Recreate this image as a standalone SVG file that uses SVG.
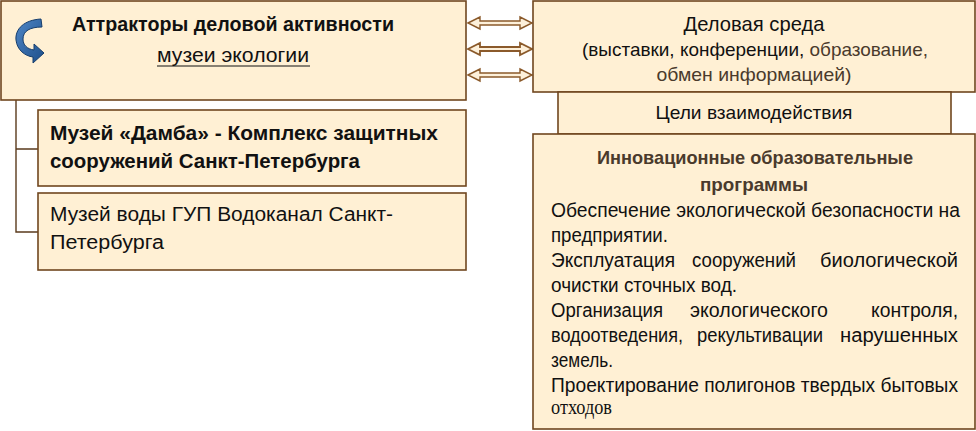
<svg xmlns="http://www.w3.org/2000/svg" width="976" height="431" viewBox="0 0 976 431">
<defs>
<style>
.box{fill:#fff0d4;stroke:#70461f;stroke-width:1.6}
.t{font-family:"Liberation Sans",Arial,sans-serif;fill:#111}
.p{font-size:19.5px}
.b{font-weight:bold}
.g{fill:#4a3a2c}
.arr{fill:#fdf0da;stroke:#8b5a2b;stroke-width:1.4}
.con{fill:none;stroke:#5a3a1c;stroke-width:1.4}
</style>
<linearGradient id="bl" x1="0" y1="0" x2="1" y2="1">
<stop offset="0" stop-color="#4f86c6"/>
<stop offset="1" stop-color="#1d4f8a"/>
</linearGradient>
</defs>
<rect width="976" height="431" fill="#ffffff"/>

<g id="connectors">
<path class="con" d="M16 100 V232 H38 M16 149 H38"/>
<polygon class="arr" points="468,23 480,17 480,21 520,21 520,17 532,23 520,29 520,25 480,25 480,29"/>
<polygon class="arr" points="468,49 480,43 480,47 520,47 520,43 532,49 520,55 520,51 480,51 480,55" style="stroke-width:1.8"/>
<polygon class="arr" points="468,75 480,69 480,73 520,73 520,69 532,75 520,81 520,77 480,77 480,81"/>
</g>

<g id="attractors">
<rect class="box" x="1" y="1" width="465" height="99"/>
<path d="M41 19 C24 20 15 29 16 40 C17 50 25 56 33 57 L33 63 L44 53 L34 44 L34 50 C27 49 23 45 23 39 C23 31 30 27 42 27 Z" fill="url(#bl)" stroke="#173e6c" stroke-width="1"/>
<text class="t b" x="233" y="31" font-size="20" text-anchor="middle" textLength="322" lengthAdjust="spacingAndGlyphs">Аттракторы деловой активности</text>
<text class="t" x="233" y="62" font-size="20" text-anchor="middle" textLength="152" lengthAdjust="spacingAndGlyphs">музеи экологии</text>
<line x1="157" y1="66" x2="310" y2="66" stroke="#111" stroke-width="1"/>
</g>

<g id="dambamuseum">
<rect class="box" x="38" y="110" width="428" height="76"/>
<text class="t b" x="50" y="140" font-size="20" textLength="388" lengthAdjust="spacingAndGlyphs">Музей «Дамба» - Комплекс защитных</text>
<text class="t b" x="50" y="168" font-size="20" textLength="310" lengthAdjust="spacingAndGlyphs">сооружений Санкт-Петербурга</text>
</g>

<g id="watermuseum">
<rect class="box" x="38" y="193" width="428" height="77"/>
<text class="t" x="50" y="221" font-size="20" textLength="343" lengthAdjust="spacingAndGlyphs">Музей воды ГУП Водоканал Санкт-</text>
<text class="t" x="50" y="249" font-size="20" textLength="114" lengthAdjust="spacingAndGlyphs">Петербурга</text>
</g>

<g id="businessenv">
<rect class="box" x="533" y="1" width="442" height="91"/>
<text class="t" x="754" y="31" font-size="21" text-anchor="middle" textLength="141" lengthAdjust="spacingAndGlyphs">Деловая среда</text>
<text class="t" x="582" y="56" font-size="19" textLength="346" lengthAdjust="spacingAndGlyphs">(выставки, конференции, <tspan class="g">образование,</tspan></text>
<text class="t g" x="754" y="81" font-size="19" text-anchor="middle" textLength="195" lengthAdjust="spacingAndGlyphs">обмен информацией)</text>
</g>

<g id="goals">
<rect class="box" x="558" y="92" width="393" height="42"/>
<text class="t" x="754" y="119" font-size="18.5" text-anchor="middle" textLength="197" lengthAdjust="spacingAndGlyphs">Цели взаимодействия</text>
</g>

<g id="programs">
<rect class="box" x="533" y="134" width="442" height="295"/>
<text class="t b g" x="755" y="164" font-size="18.5" text-anchor="middle" textLength="316" lengthAdjust="spacingAndGlyphs">Инновационные образовательные</text>
<text class="t b g" x="754" y="191" font-size="18.5" text-anchor="middle" textLength="108" lengthAdjust="spacingAndGlyphs">программы</text>
<text class="t p" x="551" y="217" textLength="409" lengthAdjust="spacingAndGlyphs">Обеспечение экологической безопасности на</text>
<text class="t p" x="551" y="242" textLength="117" lengthAdjust="spacingAndGlyphs">предприятии.</text>
<text class="t p" x="551" y="267" textLength="124" lengthAdjust="spacingAndGlyphs">Эксплуатация</text>
<text class="t p" x="692" y="267" textLength="104" lengthAdjust="spacingAndGlyphs">сооружений</text>
<text class="t p" x="820" y="267" textLength="138" lengthAdjust="spacingAndGlyphs">биологической</text>
<text class="t p" x="551" y="292" textLength="186" lengthAdjust="spacingAndGlyphs">очистки сточных вод.</text>
<text class="t p" x="551" y="317" textLength="112" lengthAdjust="spacingAndGlyphs">Организация</text>
<text class="t p" x="690" y="317" textLength="138" lengthAdjust="spacingAndGlyphs">экологического</text>
<text class="t p" x="871" y="317" textLength="87" lengthAdjust="spacingAndGlyphs">контроля,</text>
<text class="t p" x="551" y="342" textLength="132" lengthAdjust="spacingAndGlyphs">водоотведения,</text>
<text class="t p" x="697" y="342" textLength="126" lengthAdjust="spacingAndGlyphs">рекультивации</text>
<text class="t p" x="840" y="342" textLength="118" lengthAdjust="spacingAndGlyphs">нарушенных</text>
<text class="t p" x="551" y="367" textLength="62" lengthAdjust="spacingAndGlyphs">земель.</text>
<text class="t p" x="551" y="392" textLength="407" lengthAdjust="spacingAndGlyphs">Проектирование полигонов твердых бытовых</text>
<text x="551" y="414" font-size="20" font-family="'Liberation Serif','Times New Roman',serif" fill="#111" textLength="61" lengthAdjust="spacingAndGlyphs">отходов</text>
</g>
</svg>
